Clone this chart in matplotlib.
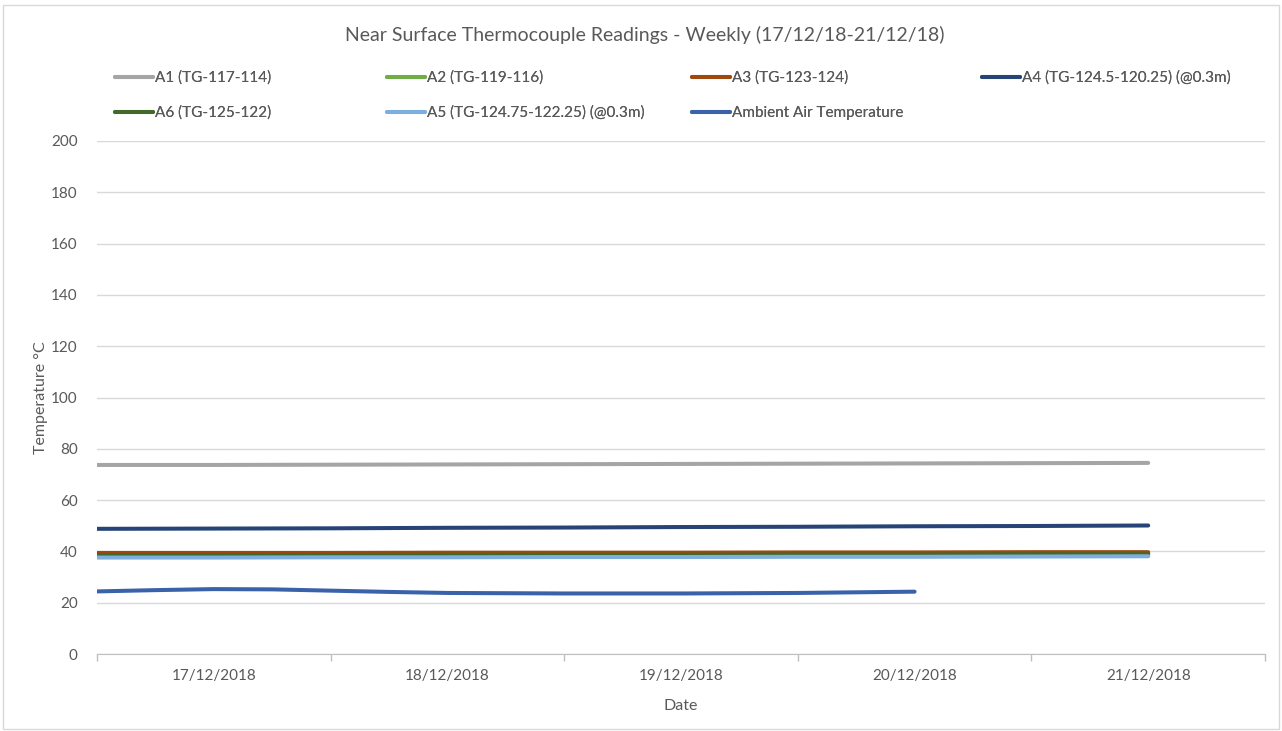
import matplotlib
matplotlib.use("Agg")
import matplotlib.pyplot as plt
from matplotlib.patches import Rectangle

plt.rcParams['font.family'] = ['Lato', 'DejaVu Sans']

# ---- data ----
categories = ["17/12/2018", "18/12/2018", "19/12/2018", "20/12/2018", "21/12/2018"]
x_days = [-0.5, 0, 0.5, 1, 1.5, 2, 2.5, 3, 3.5, 4]
a1 = [73.7, 73.7, 73.8, 73.9, 74.0, 74.1, 74.2, 74.3, 74.4, 74.5]
a2 = [39.0, 39.0, 39.0, 39.1, 39.1, 39.1, 39.2, 39.2, 39.3, 39.3]
a3 = [39.4, 39.4, 39.4, 39.5, 39.5, 39.5, 39.6, 39.6, 39.7, 39.7]
a4 = [48.8, 48.9, 49.0, 49.2, 49.3, 49.5, 49.6, 49.8, 49.9, 50.1]
a6 = [38.6, 38.6, 38.6, 38.7, 38.7, 38.7, 38.8, 38.8, 38.9, 38.9]
a5 = [37.6, 37.6, 37.7, 37.7, 37.8, 37.8, 37.9, 37.9, 38.0, 38.1]
x_amb = [-0.5, -0.25, 0, 0.25, 0.5, 0.75, 1, 1.5, 2, 2.5, 3]
ambient = [24.4, 24.9, 25.3, 25.2, 24.7, 24.2, 23.8, 23.6, 23.6, 23.8, 24.3]

names = ["A1 (TG-117-114)", "A2 (TG-119-116)", "A3 (TG-123-124)",
         "A4 (TG-124.5-120.25) (@0.3m)", "A6 (TG-125-122)",
         "A5 (TG-124.75-122.25) (@0.3m)", "Ambient Air Temperature"]
colors = ["#A5A5A5", "#70AD47", "#9E480E", "#264478", "#43682B", "#7CAFDD", "#3A62AB"]
yticks = list(range(0, 201, 20))

W, H = 1282, 731
fig = plt.figure(figsize=(W / 100, H / 100), dpi=100)
ax = fig.add_axes([97 / W, 1 - 654 / H, (1265 - 97) / W, (654 - 141) / H])

series = [(x_days, a1), (x_days, a2), (x_days, a3), (x_days, a4),
          (x_days, a6), (x_days, a5), (x_amb, ambient)]
for (xs, ys), c, n in zip(series, colors, names):
    ax.plot(xs, ys, color=c, lw=2.9, solid_capstyle='round', label=n)

ax.set_xlim(-0.5, 4.5)
ax.set_ylim(0, 200)
ax.set_yticks(yticks)
ax.yaxis.grid(True, color="#D9D9D9", lw=1)
ax.set_axisbelow(True)
ax.set_xticks(range(len(categories)))
ax.set_xticklabels(categories)
ax.set_xticks([i - 0.5 for i in range(len(categories) + 1)], minor=True)
ax.tick_params(axis='x', which='major', length=0, pad=11, labelsize=11, labelcolor="#595959")
ax.tick_params(axis='x', which='minor', length=5, color="#BFBFBF", width=1)
ax.tick_params(axis='y', length=0, pad=14, labelsize=11, labelcolor="#595959")
for s in ["top", "right", "left"]:
    ax.spines[s].set_visible(False)
ax.spines["bottom"].set_color("#BFBFBF")

ax.set_xlabel("Date", fontsize=11.5, color="#595959", labelpad=11)
ax.set_ylabel("Temperature °C", fontsize=11.5, color="#595959", labelpad=2)
fig.text(645 / W, 1 - 35 / H, "Near Surface Thermocouple Readings - Weekly (17/12/18-21/12/18)",
         ha='center', va='center', fontsize=14, color="#595959")

# legend: Excel-style uniform columns, row-major order
handles = ax.get_lines()
col_x = [113, 385, 690, 980]
rows = [[0, 1, 2, 3], [4, 5, 6]]
row_y = [78, 113]
for r, idxs in enumerate(rows):
    for ci, idx in enumerate(idxs):
        leg = fig.legend([handles[idx]], [names[idx]], loc='center left',
                         bbox_to_anchor=(col_x[ci] / W - 0.0045, 1 - row_y[r] / H),
                         frameon=False, fontsize=11, handlelength=2.5,
                         handletextpad=0.15, borderpad=0, labelcolor="#595959")
        fig.add_artist(leg)

fig.patches.append(Rectangle((3 / W, 2 / H), (1279 - 3) / W, (726 - 2) / H,
                             transform=fig.transFigure, fill=False,
                             edgecolor="#D9D9D9", lw=1))

fig.savefig("out.png", dpi=100)
